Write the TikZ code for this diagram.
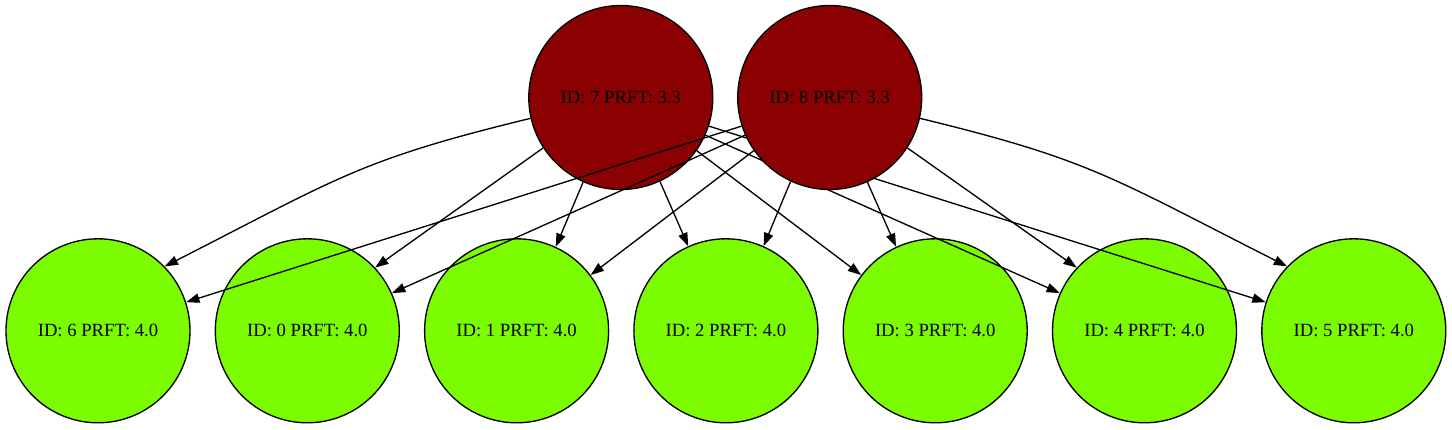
\documentclass[tikz,border=0pt]{standalone}
\usepackage{fontspec}
\setmainfont{Liberation Serif}
\usetikzlibrary{arrows.meta}
\definecolor{darkred}{HTML}{8B0000}
\definecolor{lawngreen}{HTML}{7CFC00}
\begin{document}
\begin{tikzpicture}[x=0.75pt,y=-0.75pt,line width=1pt,
            hub/.style = {circle,draw,fill=darkred,
                minimum size = 138pt,inner sep=0pt,
                font=\fontsize{14}{16}\selectfont},
            leaf/.style = {circle,draw,fill=lawngreen,
                minimum size = 138pt,inner sep=0pt,
                font=\fontsize{14}{16}\selectfont},
            link/.style = {-{Triangle[length=10pt,width=7pt]}}]

        \useasboundingbox (0,0) rectangle (1452,429);

        % Leaves
        \node[leaf] (n6) at (98,330.8) {ID: 6 PRFT: 4.0};
        \node[leaf] (n0) at (307.3,330.8) {ID: 0 PRFT: 4.0};
        \node[leaf] (n1) at (516.6,330.8) {ID: 1 PRFT: 4.0};
        \node[leaf] (n2) at (725.9,330.8) {ID: 2 PRFT: 4.0};
        \node[leaf] (n3) at (935.2,330.8) {ID: 3 PRFT: 4.0};
        \node[leaf] (n4) at (1144.5,330.8) {ID: 4 PRFT: 4.0};
        \node[leaf] (n5) at (1353.8,330.8) {ID: 5 PRFT: 4.0};

        % Node 7 and its edges
        \node[hub] (n7) at (620.8,97.5) {ID: 7 PRFT: 3.3};
        \draw[link] (n7.193) .. controls (360,159.8) and (340,177) .. (n6.44);
        \draw[link] (n7.213) -- (n0.43);
        \draw[link] (n7.246) -- (n1.65);
        \draw[link] (n7.295) -- (n2.114);
        \draw[link] (n7.-35) -- (n3.143);
        \draw[link] (n7.-24) -- (n4.156);
        \draw[link] (n7.-18) -- (n5.162);

        % Node 8 and its edges
        \node[hub] (n8) at (829.7,97.5) {ID: 8 PRFT: 3.3};
        \draw[link] (n8.198) -- (n6.18);
        \draw[link] (n8.204) -- (n0.24);
        \draw[link] (n8.215) -- (n1.37);
        \draw[link] (n8.245) -- (n2.66);
        \draw[link] (n8.-66) -- (n3.115);
        \draw[link] (n8.-33) -- (n4.137);
        \draw[link] (n8.-13) .. controls (1090.5,159.8) and (1110.5,177) .. (n5.136);

\end{tikzpicture}
\end{document}
